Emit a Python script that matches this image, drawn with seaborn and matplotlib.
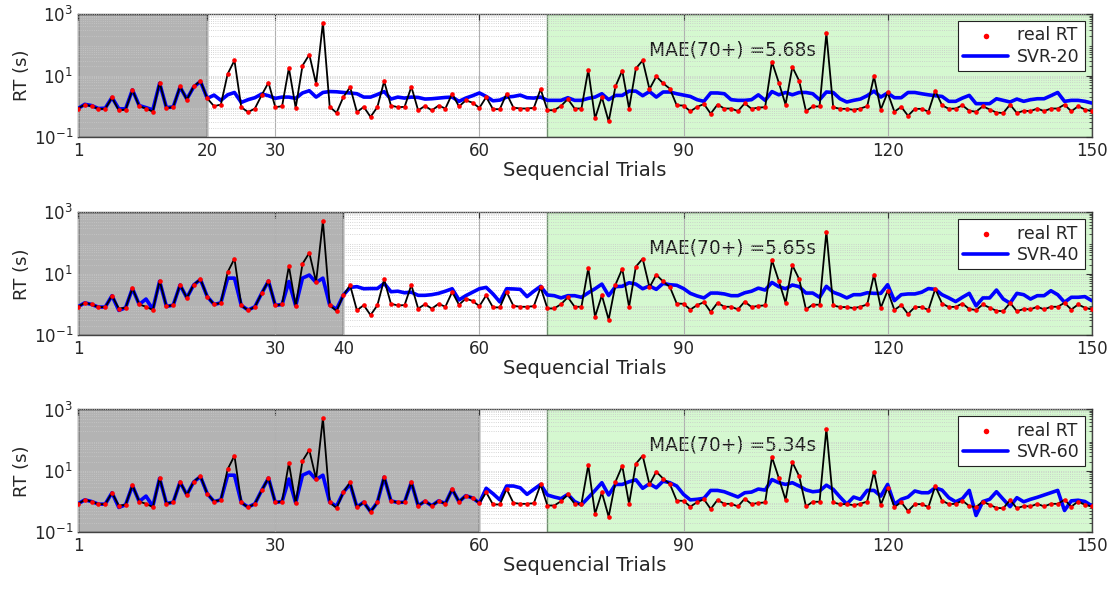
import matplotlib
matplotlib.use("Agg")
import matplotlib.pyplot as plt
import matplotlib.ticker as mticker
import seaborn as sns
import numpy as np
import pandas as pd

# DATA

trials = list(range(1, 151))

real_rt = [
    0.84, 1.13, 1.0, 0.82, 0.82, 1.93, 0.73, 0.78, 3.4, 1.0,
    0.84, 0.66, 5.9, 0.86, 0.95, 4.4, 1.63, 4.4, 6.7, 1.8,
    1.0, 1.13, 11.3, 31, 0.93, 0.64, 0.84, 2.3, 5.9, 0.93,
    1.0, 17.7, 0.88, 21, 48, 5.4, 524, 0.95, 0.61, 1.98,
    4.2, 0.64, 0.95, 0.45, 0.93, 6.5, 1.05, 0.93, 0.95, 4.3,
    0.73, 1.02, 0.73, 1.05, 0.84, 2.55, 0.98, 1.55, 1.3, 0.88,
    1.98, 0.8, 0.8, 2.55, 0.9, 0.84, 0.84, 0.88, 3.6, 0.74,
    0.74, 1.02, 1.71, 0.84, 0.84, 15.3, 0.4, 1.98, 0.32, 4.4,
    14.5, 0.84, 17, 31, 3.6, 9.3, 5.6, 3.7, 1.07, 1.05,
    0.68, 0.95, 1.18, 0.57, 1.13, 0.84, 0.84, 0.69, 1.24, 0.82,
    0.9, 0.93, 28, 5.9, 1.13, 19, 6.7, 0.69, 0.98, 0.98,
    236, 0.93, 0.82, 0.82, 0.76, 0.84, 1.0, 9.3, 0.78, 2.8,
    0.66, 0.95, 0.49, 0.82, 0.82, 0.66, 3.2, 1.07, 0.82, 0.84,
    1.07, 0.71, 0.66, 1.0, 0.78, 0.62, 0.6, 1.13, 0.6, 0.71,
    0.69, 0.84, 0.69, 0.84, 0.84, 1.13, 0.68, 1.0, 0.78, 0.69,
]

svr_20 = [
    0.84, 1.15, 1.05, 0.84, 0.86, 1.93, 0.82, 0.82, 3.4, 1.05,
    0.9, 0.76, 5.6, 0.9, 0.95, 4.2, 1.71, 4.2, 6.4, 1.8,
    2.3, 1.55, 2.35, 2.8, 1.33, 1.63, 1.89, 2.5, 2.2, 1.8,
    1.98, 1.98, 1.8, 2.7, 3.2, 1.98, 2.8, 3.0, 2.95, 2.8,
    2.7, 2.55, 1.98, 1.98, 2.4, 3.0, 1.71, 1.98, 1.84, 1.98,
    1.93, 1.71, 1.75, 1.84, 1.93, 1.98, 1.44, 1.84, 2.2, 2.7,
    2.08, 1.5, 1.58, 1.98, 2.08, 2.3, 1.89, 1.84, 1.98, 1.55,
    1.55, 1.55, 1.89, 1.55, 1.55, 1.8, 1.98, 2.55, 1.63, 2.25,
    2.25, 3.1, 3.1, 2.2, 3.0, 1.98, 2.9, 2.9, 2.55, 2.3,
    2.08, 1.63, 1.44, 2.7, 2.7, 2.55, 1.63, 1.55, 1.55, 1.63,
    2.35, 1.55, 3.0, 2.35, 2.8, 2.35, 2.8, 2.8, 2.55, 1.63,
    2.9, 2.8, 1.75, 1.37, 1.55, 1.71, 2.2, 3.1, 1.98, 2.7,
    1.89, 1.89, 2.8, 2.8, 2.55, 2.35, 2.2, 2.08, 1.44, 1.44,
    1.84, 2.25, 1.21, 1.21, 1.21, 1.75, 1.55, 1.37, 1.71, 1.44,
    1.63, 1.75, 1.75, 2.2, 2.8, 1.44, 1.55, 1.55, 1.44, 1.27,
]

svr_40 = [
    0.84, 1.13, 1.0, 0.82, 0.82, 1.93, 0.64, 0.78, 3.3, 1.0,
    1.5, 0.7, 5.7, 0.86, 0.95, 4.3, 1.65, 4.3, 6.5, 1.8,
    1.0, 1.13, 7.2, 7.2, 0.93, 0.66, 0.84, 2.3, 5.8, 0.93,
    1.0, 5.6, 0.9, 7.2, 9.1, 5.2, 7.2, 0.95, 0.7, 2.0,
    3.6, 3.8, 3.25, 3.3, 3.3, 4.85, 2.6, 2.7, 2.4, 2.5,
    1.98, 1.98, 2.08, 2.3, 2.7, 3.25, 1.4, 1.93, 2.5, 3.25,
    3.6, 2.2, 1.21, 3.25, 3.2, 3.1, 1.8, 2.7, 3.9, 2.03,
    1.93, 1.63, 1.93, 1.93, 1.71, 2.4, 3.25, 4.6, 1.93, 3.8,
    3.9, 5.1, 4.6, 3.25, 4.0, 3.1, 4.85, 4.4, 4.2, 3.3,
    2.3, 1.89, 1.63, 2.35, 2.35, 2.2, 1.93, 1.93, 2.4, 2.7,
    3.4, 2.95, 5.2, 3.8, 3.25, 4.3, 3.8, 2.35, 2.35, 1.71,
    3.9, 2.5, 2.08, 1.63, 2.08, 2.08, 2.4, 2.3, 2.3, 4.4,
    1.33, 2.08, 2.2, 2.2, 2.5, 3.3, 3.1, 2.08, 1.63, 1.24,
    1.71, 2.3, 0.9, 1.63, 1.63, 2.95, 1.5, 1.10, 2.3, 2.08,
    1.5, 1.93, 1.93, 2.8, 2.08, 1.18, 1.71, 1.71, 1.8, 1.33,
]

svr_60 = [
    0.84, 1.13, 1.0, 0.82, 0.82, 1.93, 0.64, 0.78, 3.3, 1.0,
    1.5, 0.7, 5.7, 0.86, 0.95, 4.3, 1.65, 4.3, 6.5, 1.8,
    1.0, 1.13, 7.2, 7.2, 0.93, 0.66, 0.84, 2.3, 5.8, 0.93,
    1.0, 5.4, 0.9, 7.2, 9.1, 5.2, 7.2, 0.95, 0.7, 2.0,
    3.7, 0.66, 0.95, 0.47, 0.93, 6.2, 1.05, 0.93, 0.95, 4.2,
    0.73, 1.02, 0.73, 1.05, 0.86, 2.5, 0.98, 1.55, 1.3, 0.9,
    2.7, 1.8, 1.13, 3.2, 3.2, 2.8, 1.71, 2.5, 3.6, 1.63,
    1.4, 1.24, 1.71, 1.0, 0.78, 1.33, 2.3, 4.1, 1.63, 3.6,
    3.6, 4.4, 5.1, 2.7, 3.8, 2.8, 4.6, 4.1, 3.2, 1.71,
    1.13, 1.18, 1.27, 2.3, 2.3, 2.08, 1.71, 1.4, 1.93, 2.03,
    2.55, 2.35, 5.2, 4.1, 3.6, 4.1, 3.2, 2.4, 2.08, 2.2,
    3.4, 2.5, 1.4, 0.82, 1.4, 1.18, 2.3, 2.3, 1.5, 3.6,
    0.82, 1.18, 1.4, 2.2, 1.93, 1.93, 2.8, 2.35, 1.33, 0.98,
    1.24, 2.3, 0.35, 1.0, 1.18, 2.08, 1.18, 0.68, 1.33, 0.98,
    1.18, 1.37, 1.63, 1.93, 2.3, 0.51, 1.05, 1.10, 1.0, 0.73,
]

train_sizes = [20, 40, 60]
svr_labels = ["SVR-20", "SVR-40", "SVR-60"]
mae_labels = ["MAE(70+) =5.68s", "MAE(70+) =5.65s", "MAE(70+) =5.34s"]
xtick_sets = [
    [1, 20, 30, 60, 90, 120, 150],
    [1, 30, 40, 60, 90, 120, 150],
    [1, 30, 60, 90, 120, 150],
]
test_start = 70

# STYLE

sns.set_style("white")
plt.rcParams["font.family"] = ["DejaVu Sans"]
plt.rcParams["mathtext.default"] = "regular"

fig = plt.figure(figsize=(11.14, 5.9), dpi=100)
boxes = [
    [0.070, 0.768, 0.910, 0.208],
    [0.070, 0.432, 0.910, 0.208],
    [0.070, 0.098, 0.910, 0.208],
]

svr_series = [svr_20, svr_40, svr_60]

for i, box in enumerate(boxes):
    ax = fig.add_axes(box)
    df = pd.DataFrame({"trial": trials, "real": real_rt, "svr": svr_series[i]})

    # shaded training / test regions
    ax.axvspan(1, train_sizes[i], facecolor="#b3b3b3", edgecolor="#333333",
               linewidth=1.0, zorder=0.5)
    ax.axvspan(test_start, 150, facecolor="#d5f8d0", edgecolor="#6f8f6f",
               linewidth=1.0, zorder=0.5)

    sns.lineplot(data=df, x="trial", y="svr", ax=ax, color="#0000ff",
                 linewidth=2.6, label=svr_labels[i], zorder=3)
    sns.lineplot(data=df, x="trial", y="real", ax=ax, color="black",
                 linewidth=1.3, zorder=4, legend=False)
    sns.scatterplot(data=df, x="trial", y="real", ax=ax, color="red",
                    s=11, linewidth=0, zorder=5, label="real RT")

    ax.set_yscale("log")
    ax.set_ylim(0.1, 1000)
    ax.set_xlim(1, 150)
    ax.set_yticks([0.1, 10, 1000])
    ax.yaxis.set_major_formatter(mticker.LogFormatterMathtext())
    ax.yaxis.set_minor_locator(mticker.LogLocator(base=10, subs=np.arange(2, 10), numticks=20))
    ax.yaxis.set_minor_formatter(mticker.NullFormatter())
    ax.set_xticks(xtick_sets[i])

    ax.grid(True, which="major", axis="x", color="#b0b0b0", linewidth=0.8, zorder=1)
    ax.grid(True, which="both", axis="y", color="#c8c8c8", linewidth=0.6,
            linestyle=":", zorder=1)
    ax.set_axisbelow(False)
    for gl in ax.get_xgridlines() + ax.get_ygridlines():
        gl.set_zorder(1)

    ax.tick_params(direction="in", which="both", top=True, right=True,
                   labelsize=12, color="#333333", length=4)
    ax.tick_params(which="minor", length=2)
    for sp in ax.spines.values():
        sp.set_color("#444444")
        sp.set_linewidth(1.0)

    ax.set_ylabel("RT (s)", fontsize=13, labelpad=2)
    ax.set_xlabel("Sequencial Trials", fontsize=14, labelpad=1)

    ax.text(85, 68, mae_labels[i], fontsize=13.4, va="center", ha="left",
            color="#1a1a1a", zorder=2)

    handles, labels = ax.get_legend_handles_labels()
    order = [labels.index("real RT"), labels.index(svr_labels[i])]
    leg = ax.legend([handles[j] for j in order], [labels[j] for j in order],
                    loc="upper right", fontsize=12.5, frameon=True, fancybox=False,
                    edgecolor="#222222", framealpha=1, borderaxespad=0.4,
                    handlelength=2.6, handletextpad=0.5, borderpad=0.3,
                    labelspacing=0.2, markerscale=1.2)
    leg.get_frame().set_linewidth(0.8)
    leg.set_zorder(10)

fig.savefig("out.png", dpi=100)
